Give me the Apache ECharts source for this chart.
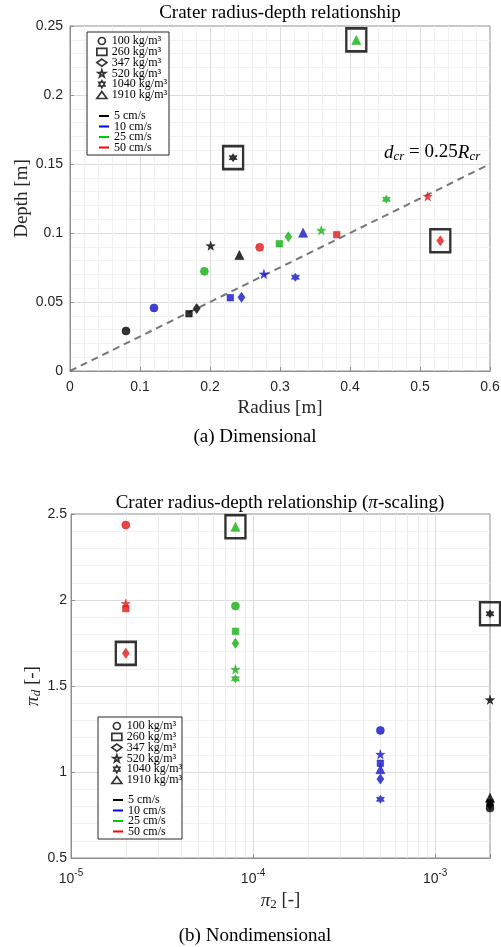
<!DOCTYPE html>
<html><head><meta charset="utf-8">
<script src="https://cdn.jsdelivr.net/npm/echarts@6/dist/echarts.min.js"></script>
<style>html,body{margin:0;padding:0;background:#fff}#c{width:501px;height:947px}</style>
</head><body><div id="c"></div>
<script>
// ---------- data ----------
const densityNames = ['100 kg/m³', '260 kg/m³', '347 kg/m³', '520 kg/m³', '1040 kg/m³', '1910 kg/m³'];
const speedNames = ['5 cm/s', '10 cm/s', '25 cm/s', '50 cm/s'];
const pointSpeed   = [0,0,0,0,0,0, 1,1,1,1,1,1, 2,2,2,2,2,2, 3,3,3,3];
const pointDensity = [0,1,2,3,4,5, 0,1,2,3,4,5, 0,1,2,3,4,5, 0,1,2,3];
const radius = [0.080,0.170,0.181,0.201,0.233,0.242, 0.120,0.229,0.245,0.277,0.322,0.333, 0.192,0.299,0.312,0.359,0.452,0.409, 0.271,0.381,0.529,0.511];
const depth  = [0.029,0.0415,0.0452,0.0908,0.1546,0.084, 0.0457,0.0531,0.0534,0.0703,0.0679,0.1002, 0.0722,0.0922,0.0973,0.102,0.1244,0.2399, 0.0896,0.0988,0.0944,0.1266];
const pi2BySpeed = [2e-3, 5e-4, 8e-5, 2e-5];
const piD    = [0.79,0.82,0.81,1.42,1.92,0.85, 1.242,1.051,0.959,1.103,0.841,1.016, 1.965,1.818,1.748,1.597,1.542,2.426, 2.436,1.95,1.69,1.98];
const outlier = [0,0,0,0,1,0, 0,0,0,0,0,0, 0,0,0,0,0,1, 0,0,1,0];
const fitX = [0, 0.6];
const fitY = [0, 0.15];
const xTicksTop = [0, 0.6, 0.1];
const yTicksTop = [0, 0.25, 0.05];
const xRangeBottom = [1e-5, 2e-3];
const yTicksBottom = [0.5, 2.5, 0.5];

// ---------- style ----------
const speedColors = ['#000000', '#1414c8', '#14b014', '#e01a1a'];
const STAR = 'path://M50,0 L61,35 L98,35 L68,57 L79,91 L50,70 L21,91 L32,57 L2,35 L39,35 Z';
const HEX = 'path://M50,0 L64.43,25 L93.3,25 L78.87,50 L93.3,75 L64.43,75 L50,100 L35.57,75 L6.7,75 L21.13,50 L6.7,25 L35.57,25 Z';
const shapeSymbols = ['circle', 'rect', 'diamond', STAR, HEX, 'triangle'];
const shapeSizes = [8, 6.5, [7, 10], 9, 8, 9];
const AX = '#8f8f8f';
const SANS = 'Liberation Sans';
const SERIF = 'Liberation Serif';

const minorLog = [];
for (let e = -5; e <= -4; e++) for (let m = 2; m <= 9; m++) minorLog.push(m * Math.pow(10, e));

function axisBase(extra) {
  return Object.assign({
    axisLine: {show: true, onZero: false, lineStyle: {color: AX, width: 1}},
    axisTick: {show: true, inside: true, length: 4, lineStyle: {color: AX}},
    splitLine: {show: true, showMinLine: false, showMaxLine: false, lineStyle: {color: '#dcdcdc', width: 1}},
    minorTick: {show: false, splitNumber: 5},
    minorSplitLine: {show: true, lineStyle: {color: '#f1f1f1', width: 1}},
    axisLabel: {fontFamily: SANS, fontSize: 14, color: '#262626'},
    nameTextStyle: {fontFamily: SERIF, fontSize: 19, color: '#262626'}
  }, extra);
}

const series = [];
// minor log grid lines (bottom chart), drawn through the log scale
series.push({
  type: 'custom', xAxisIndex: 1, yAxisIndex: 1, z: 1, silent: true,
  data: minorLog.map(v => [v]),
  encode: {x: 0},
  renderItem: (params, api) => {
    const x = api.value(0);
    const p0 = api.coord([x, yTicksBottom[0]]);
    const p1 = api.coord([x, yTicksBottom[1]]);
    return {type: 'line', shape: {x1: Math.round(p0[0]) + 0.5, y1: p0[1], x2: Math.round(p1[0]) + 0.5, y2: p1[1]},
      style: {stroke: '#ebebeb', lineWidth: 1}};
  }
});
// fit line
series.push({
  type: 'line', xAxisIndex: 0, yAxisIndex: 0, symbol: 'none', silent: true,
  data: fitX.map((x, i) => [x, fitY[i]]),
  lineStyle: {color: '#777777', width: 2, type: [7, 5]}, z: 2
});
// data points
for (let s = 0; s < speedNames.length; s++) {
  const top = [], bot = [];
  for (let i = 0; i < radius.length; i++) {
    if (pointSpeed[i] !== s) continue;
    const k = pointDensity[i];
    top.push({value: [radius[i], depth[i]], symbol: shapeSymbols[k], symbolSize: shapeSizes[k]});
    bot.push({value: [pi2BySpeed[s], piD[i]], symbol: shapeSymbols[k], symbolSize: shapeSizes[k]});
  }
  const st = {color: speedColors[s], borderColor: speedColors[s], borderWidth: 0.6};
  series.push({type: 'scatter', name: 'pts-top-' + s, xAxisIndex: 0, yAxisIndex: 0, data: top, itemStyle: st, z: 3});
  series.push({type: 'scatter', name: 'pts-bot-' + s, xAxisIndex: 1, yAxisIndex: 1, data: bot, itemStyle: st, z: 3});
}
// outlier boxes
const boxTop = [], boxBot = [];
for (let i = 0; i < radius.length; i++) {
  if (!outlier[i]) continue;
  boxTop.push([radius[i], depth[i]]);
  boxBot.push([pi2BySpeed[pointSpeed[i]], piD[i]]);
}
const boxStyle = {color: 'rgba(0,0,0,0)', borderColor: '#000', borderWidth: 2.5};
series.push({type: 'scatter', xAxisIndex: 0, yAxisIndex: 0, data: boxTop, symbol: 'rect', symbolSize: [20, 23], itemStyle: boxStyle, z: 3, silent: true});
series.push({type: 'scatter', xAxisIndex: 1, yAxisIndex: 1, data: boxBot, symbol: 'rect', symbolSize: [20, 23], itemStyle: boxStyle, z: 3, silent: true});
// legend proxies
densityNames.forEach((n, k) => series.push({type: 'scatter', name: n, xAxisIndex: 0, yAxisIndex: 0, data: [], symbol: shapeSymbols[k],
  itemStyle: {color: '#fff', borderColor: '#000', borderWidth: 1.6}}));
speedNames.forEach((n, k) => series.push({type: 'line', name: n, xAxisIndex: 0, yAxisIndex: 0, data: [],
  itemStyle: {color: speedColors[k]}, lineStyle: {color: speedColors[k]}}));
const legendSpeedColors = ['#000000', '#0000ff', '#00cc00', '#ff0000'];

const legText = () => ({fontFamily: SERIF, fontSize: 12, color: '#000'});
function legendDensity(left, top) {
  return {orient: 'vertical', left, top, padding: 0, itemGap: -1.2, itemWidth: 10, itemHeight: 7, selectedMode: false,
    data: densityNames, itemStyle: {color: '#fff', borderColor: '#000', borderWidth: 1.7}, textStyle: legText()};
}
function legendSpeed(left, top) {
  return {orient: 'vertical', left, top, padding: 0, itemGap: -1.5, itemWidth: 10, itemHeight: 2, icon: 'rect', selectedMode: false,
    data: speedNames.map((n, k) => ({name: n, itemStyle: {color: legendSpeedColors[k]}})), textStyle: legText()};
}

const supRich = {
  b: {fontFamily: SANS, fontSize: 14, color: '#262626', verticalAlign: 'bottom'},
  s: {fontFamily: SANS, fontSize: 10, color: '#262626', verticalAlign: 'bottom', padding: [0, 0, 8, 0]}
};
const piRich = {
  i: {fontFamily: SERIF, fontStyle: 'italic', fontSize: 19, color: '#262626', verticalAlign: 'top'},
  sub: {fontFamily: SERIF, fontSize: 13, color: '#262626', verticalAlign: 'top', padding: [7, 0, 0, 0]},
  subi: {fontFamily: SERIF, fontStyle: 'italic', fontSize: 13, color: '#262626', verticalAlign: 'top', padding: [7, 0, 0, 0]},
  n: {fontFamily: SERIF, fontSize: 19, color: '#262626', verticalAlign: 'top'}
};

const option = {
  animation: false,
  backgroundColor: '#fff',
  grid: [
    {left: 70, top: 26, width: 420, height: 345, show: true, borderColor: AX, borderWidth: 1, backgroundColor: 'transparent', outerBoundsMode: 'none', containLabel: false},
    {left: 71, top: 514, width: 419, height: 344, show: true, borderColor: AX, borderWidth: 1, backgroundColor: 'transparent', outerBoundsMode: 'none', containLabel: false}
  ],
  xAxis: [
    axisBase({type: 'value', gridIndex: 0, min: xTicksTop[0], max: xTicksTop[1], interval: xTicksTop[2],
      name: 'Radius [m]', nameLocation: 'middle', nameGap: 28,
      axisLabel: {fontFamily: SANS, fontSize: 14, color: '#262626', margin: 9}}),
    axisBase({type: 'log', gridIndex: 1, logBase: 10, min: xRangeBottom[0], max: xRangeBottom[1],
      name: '{i|π}{sub|2}{n| [-]}', nameLocation: 'middle', nameGap: 33,
      nameTextStyle: {fontFamily: SERIF, fontSize: 19, color: '#262626', rich: piRich},
      minorSplitLine: {show: false},
      axisLabel: {margin: 10, formatter: v => {
        const l = Math.log10(v), e = Math.round(l);
        if (Math.abs(l - e) > 1e-6) return '';
        return '{b|10}{s|' + e + '}';
      }, rich: supRich}})
  ],
  yAxis: [
    axisBase({type: 'value', gridIndex: 0, min: yTicksTop[0], max: yTicksTop[1], interval: yTicksTop[2],
      name: 'Depth [m]', nameLocation: 'middle', nameGap: 38, nameMoveOverlap: false,
      axisLabel: {fontFamily: SANS, fontSize: 14, color: '#262626', margin: 7}}),
    axisBase({type: 'value', gridIndex: 1, min: yTicksBottom[0], max: yTicksBottom[1], interval: yTicksBottom[2],
      name: '{i|π}{subi|d}{n| [-]}', nameLocation: 'middle', nameGap: 28, nameMoveOverlap: false,
      nameTextStyle: {fontFamily: SERIF, fontSize: 19, color: '#262626', rich: piRich},
      axisLabel: {fontFamily: SANS, fontSize: 14, color: '#262626', margin: 4}})
  ],
  legend: [legendDensity(96, 35), legendSpeed(99, 110), legendDensity(111, 720), legendSpeed(113, 794)],
  graphic: [
    {type: 'rect', z: 3, shape: {x: 87, y: 32, width: 82, height: 123}, style: {fill: '#fff', stroke: '#262626', lineWidth: 1}},
    {type: 'rect', z: 3, shape: {x: 98, y: 717, width: 84, height: 122}, style: {fill: '#fff', stroke: '#262626', lineWidth: 1}},
    {type: 'text', x: 280, y: 13, style: {text: 'Crater radius-depth relationship', font: '19px "Liberation Serif"', fill: '#000', align: 'center', verticalAlign: 'middle'}},
    {type: 'text', x: 280, y: 503, style: {text: '{n|Crater radius-depth relationship (}{i|π}{n|-scaling)}', align: 'center', verticalAlign: 'middle',
      rich: {n: {fontFamily: SERIF, fontSize: 19, fill: '#000'}, i: {fontFamily: SERIF, fontStyle: 'italic', fontSize: 19, fill: '#000'}}}},
    {type: 'text', x: 255, y: 437, style: {text: '(a) Dimensional', font: '19px "Liberation Serif"', fill: '#000', align: 'center', verticalAlign: 'middle'}},
    {type: 'text', x: 255, y: 936, style: {text: '(b) Nondimensional', font: '19px "Liberation Serif"', fill: '#000', align: 'center', verticalAlign: 'middle'}},
    {type: 'text', x: 384, y: 153, z: 5, style: {text: '{i|d}{s|cr}{n| = 0.25}{i|R}{s|cr}', verticalAlign: 'middle',
      rich: {
        i: {fontFamily: SERIF, fontStyle: 'italic', fontSize: 19, fill: '#000', verticalAlign: 'top'},
        s: {fontFamily: SERIF, fontStyle: 'italic', fontSize: 13, fill: '#000', verticalAlign: 'top', padding: [7, 0, 0, 0]},
        n: {fontFamily: SERIF, fontSize: 19, fill: '#000', verticalAlign: 'top'}
      }}}
  ],
  series
};
const chart = echarts.init(document.getElementById('c'), null, {renderer: 'canvas'});
chart.setOption(option);
</script>
</body></html>
